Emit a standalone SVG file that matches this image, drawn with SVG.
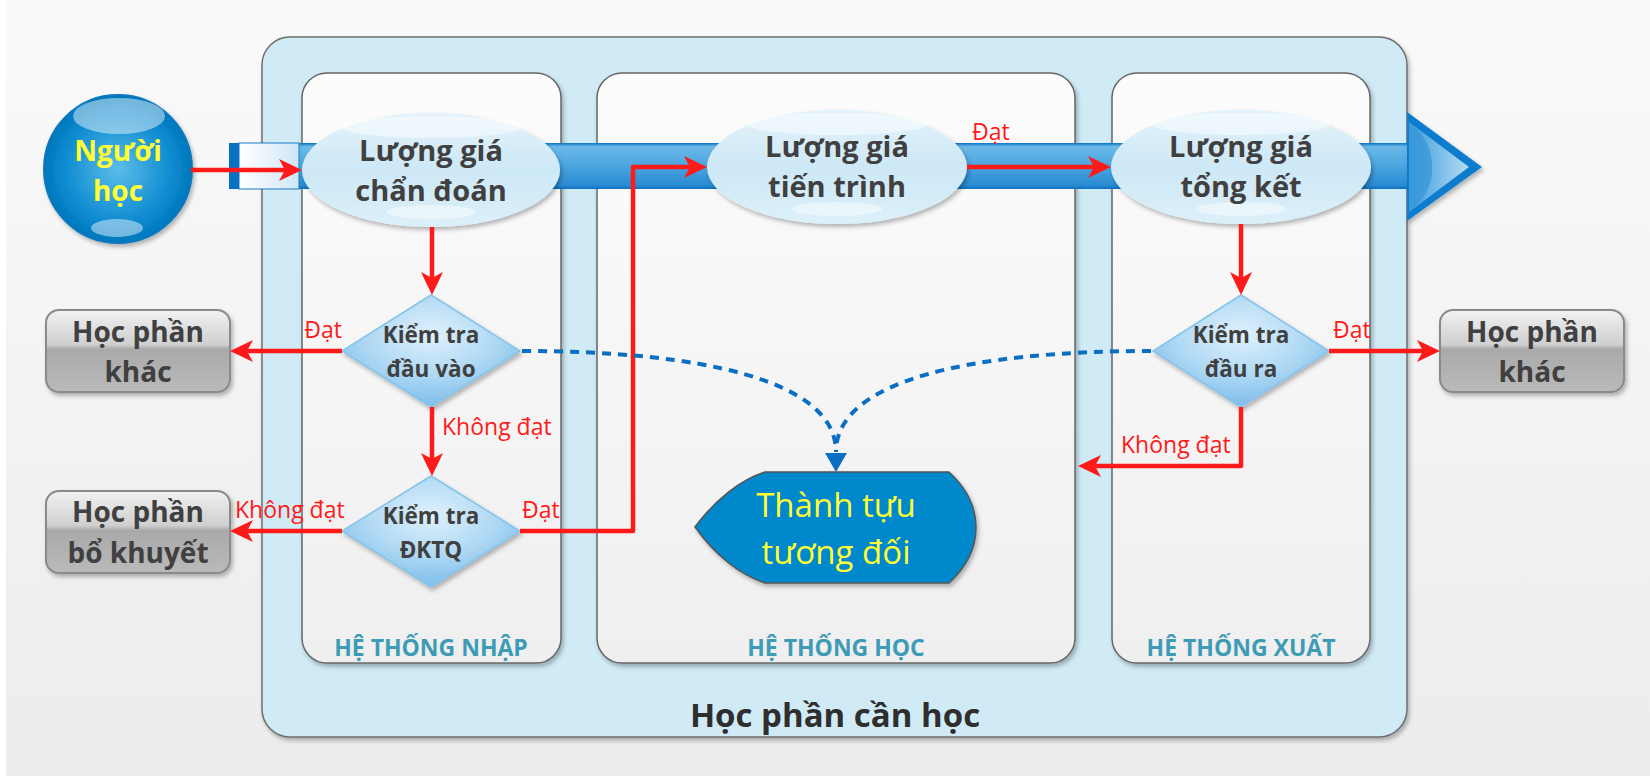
<svg xmlns="http://www.w3.org/2000/svg" width="1650" height="776" viewBox="0 0 1650 776">
<style>
.t{font-family:"Open Sans","DejaVu Sans",sans-serif;font-weight:700;fill:#404040;text-anchor:middle}
.big{font-size:28px}
.ellt{font-size:29px}
.dia{font-size:22.5px}
.plbl{font-family:"Open Sans","DejaVu Sans",sans-serif;font-weight:700;font-size:23px;fill:#3d9bb5;text-anchor:middle}
.lbl{font-family:"Open Sans","DejaVu Sans",sans-serif;font-size:23px;fill:#ff1a1a}
.red{stroke:#ff1a1a;stroke-width:4.5;fill:none;stroke-linejoin:round}
.dash{stroke:#0a6fc2;stroke-width:4;fill:none;stroke-dasharray:9 7}
.panel{fill:url(#panelG);stroke:#666;stroke-width:1.5}
.ell{fill:url(#ellG)}
.hl{fill:#fff;opacity:.45}
.diam{fill:url(#diaG);stroke:#86c3ea;stroke-width:1.5}
.gbox{fill:url(#grayG);stroke:#8a8a8a;stroke-width:2}
</style>
<defs>
<linearGradient id="bgG" x1="0" y1="0" x2="0" y2="1"><stop offset="0" stop-color="#fafafa"/><stop offset="1" stop-color="#ececec"/></linearGradient>
<linearGradient id="panelG" x1="0" y1="0" x2="0" y2="1"><stop offset="0" stop-color="#fcfcfc"/><stop offset="1" stop-color="#efefef"/></linearGradient>
<linearGradient id="ellG" x1="0" y1="0" x2="0" y2="1"><stop offset="0" stop-color="#e4f3fb"/><stop offset="0.5" stop-color="#cde8f6"/><stop offset="1" stop-color="#dcf0f9"/></linearGradient>
<radialGradient id="diaG" cx="0.5" cy="0.35" r="0.6"><stop offset="0" stop-color="#dff1fc"/><stop offset="0.6" stop-color="#b0d9f4"/><stop offset="1" stop-color="#86c2ec"/></radialGradient>
<linearGradient id="grayG" x1="0" y1="0" x2="0" y2="1"><stop offset="0" stop-color="#f2f2f2"/><stop offset="0.42" stop-color="#cfcfcf"/><stop offset="0.48" stop-color="#a9a9a9"/><stop offset="1" stop-color="#bababa"/></linearGradient>
<radialGradient id="cirG" cx="0.5" cy="0.5" r="0.5"><stop offset="0" stop-color="#5cbde9"/><stop offset="0.75" stop-color="#0c8ad0"/><stop offset="1" stop-color="#0077bb"/></radialGradient>
<linearGradient id="bandG" x1="0" y1="0" x2="0" y2="1"><stop offset="0" stop-color="#0a74c4"/><stop offset="0.08" stop-color="#6cb9e8"/><stop offset="0.5" stop-color="#4aa5df"/><stop offset="0.92" stop-color="#2a8bd3"/><stop offset="1" stop-color="#0a70c0"/></linearGradient>
<linearGradient id="bandL" x1="0" y1="0" x2="1" y2="0"><stop offset="0" stop-color="#ffffff"/><stop offset="1" stop-color="#cfe6f6"/></linearGradient>
<linearGradient id="headG" x1="0" y1="0" x2="1" y2="0"><stop offset="0" stop-color="#3d9cdc"/><stop offset="1" stop-color="#b5dcf4"/></linearGradient>
<filter id="sh" x="-10%" y="-10%" width="130%" height="140%"><feDropShadow dx="2" dy="3" stdDeviation="2" flood-color="#000" flood-opacity="0.28"/></filter>
<marker id="ra" markerUnits="userSpaceOnUse" markerWidth="24" markerHeight="24" refX="6" refY="12" orient="auto"><path d="M0,1 L23,12 L0,23 L6,12 Z" fill="#ff1a1a"/></marker>
</defs>

<rect x="0" y="0" width="1650" height="776" fill="url(#bgG)"/>
<rect x="0" y="0" width="6" height="776" fill="#ffffff"/>

<g id="container">
<rect x="262" y="37" width="1145" height="700" rx="28" fill="#d0ebf6" stroke="#6e6e6e" stroke-width="1.5" filter="url(#sh)"/>
<text class="t" x="835" y="727" font-size="33" style="fill:#2e2e2e">Học phần cần học</text>
</g>

<g id="panel-nhap">
<rect class="panel" x="302" y="73" width="259" height="590" rx="25" filter="url(#sh)"/>
<text class="plbl" x="431" y="656">HỆ THỐNG NHẬP</text>
</g>
<g id="panel-hoc">
<rect class="panel" x="597" y="73" width="478" height="590" rx="25" filter="url(#sh)"/>
<text class="plbl" x="836" y="656">HỆ THỐNG HỌC</text>
</g>
<g id="panel-xuat">
<rect class="panel" x="1112" y="73" width="258" height="590" rx="25" filter="url(#sh)"/>
<text class="plbl" x="1241" y="656">HỆ THỐNG XUẤT</text>
</g>

<g id="band">
<rect x="290" y="143" width="1118" height="46" fill="url(#bandG)"/>
<rect x="239" y="143" width="60" height="46" fill="url(#bandL)" stroke="#1a7ac6" stroke-width="1"/>
<rect x="229" y="143" width="10" height="46" fill="#0a70c0"/>
<path d="M1407,112 L1482,167 L1407,221 Z" fill="#0a7ccc" filter="url(#sh)"/>
<path d="M1409,122 L1469,167 L1409,212 Z" fill="url(#headG)"/>
<path d="M1409,122 C1440,145 1440,190 1409,212 Z" fill="#3a98da" opacity="0.8"/>
</g>

<g id="nguoi-hoc">
<circle cx="118" cy="169" r="74" fill="url(#cirG)" stroke="#0a78c0" stroke-width="2" filter="url(#sh)"/>
<ellipse cx="119" cy="116" rx="46" ry="18" class="hl" opacity="0.3"/>
<ellipse cx="117" cy="228" rx="26" ry="9" class="hl" opacity="0.22"/>
<text class="t big" x="118" y="161" style="fill:#ffff33">Người</text>
<text class="t big" x="118" y="201" style="fill:#ffff33">học</text>
</g>

<g id="lg-chan-doan">
<ellipse class="ell" cx="431" cy="170" rx="129" ry="57" filter="url(#sh)"/>
<ellipse class="hl" cx="431" cy="127" rx="90" ry="11"/>
<ellipse class="hl" cx="431" cy="212" rx="45" ry="7"/>
<text class="t ellt" x="431" y="161">Lượng giá</text>
<text class="t ellt" x="431" y="201">chẩn đoán</text>
</g>

<g id="lg-tien-trinh">
<ellipse class="ell" cx="837" cy="167" rx="130" ry="57" filter="url(#sh)"/>
<ellipse class="hl" cx="837" cy="124" rx="90" ry="11"/>
<ellipse class="hl" cx="837" cy="209" rx="45" ry="7"/>
<text class="t ellt" x="837" y="157">Lượng giá</text>
<text class="t ellt" x="837" y="197">tiến trình</text>
</g>

<g id="lg-tong-ket">
<ellipse class="ell" cx="1241" cy="167" rx="130" ry="57" filter="url(#sh)"/>
<ellipse class="hl" cx="1241" cy="124" rx="90" ry="11"/>
<ellipse class="hl" cx="1241" cy="209" rx="45" ry="7"/>
<text class="t ellt" x="1241" y="157">Lượng giá</text>
<text class="t ellt" x="1241" y="197">tổng kết</text>
</g>

<g id="kt-dau-vao">
<path class="diam" d="M431,295 L520,351 L431,407 L342,351 Z" filter="url(#sh)"/>
<text class="t dia" x="431" y="343">Kiểm tra</text>
<text class="t dia" x="431" y="377">đầu vào</text>
</g>

<g id="kt-dktq">
<path class="diam" d="M431,476 L520,531 L431,587 L342,531 Z" filter="url(#sh)"/>
<text class="t dia" x="431" y="524">Kiểm tra</text>
<text class="t dia" x="431" y="558">ĐKTQ</text>
</g>

<g id="kt-dau-ra">
<path class="diam" d="M1241,295 L1329,351 L1241,407 L1153,351 Z" filter="url(#sh)"/>
<text class="t dia" x="1241" y="343">Kiểm tra</text>
<text class="t dia" x="1241" y="377">đầu ra</text>
</g>

<g id="hp-khac-trai">
<rect class="gbox" x="46" y="310" width="184" height="82" rx="13" filter="url(#sh)"/>
<text class="t big" x="138" y="342">Học phần</text>
<text class="t big" x="138" y="382">khác</text>
</g>

<g id="hp-bo-khuyet">
<rect class="gbox" x="46" y="491" width="184" height="82" rx="13" filter="url(#sh)"/>
<text class="t big" x="138" y="522">Học phần</text>
<text class="t big" x="138" y="563">bổ khuyết</text>
</g>

<g id="hp-khac-phai">
<rect class="gbox" x="1440" y="310" width="184" height="82" rx="13" filter="url(#sh)"/>
<text class="t big" x="1532" y="342">Học phần</text>
<text class="t big" x="1532" y="382">khác</text>
</g>

<g id="thanh-tuu">
<path d="M695,527 C715,500 740,480 765,472 L949,472 C985,505 985,550 949,583 L765,583 C740,575 715,555 695,527 Z" fill="#0088cc" stroke="#555" stroke-width="1.5" filter="url(#sh)"/>
<text x="836" y="517" font-family="'Open Sans','DejaVu Sans',sans-serif" font-size="33" fill="#ffff33" text-anchor="middle">Thành tựu</text>
<text x="836" y="564" font-family="'Open Sans','DejaVu Sans',sans-serif" font-size="33" fill="#ffff33" text-anchor="middle">tương đối</text>
</g>

<g id="connectors">
<path class="red" d="M191,170 L285,170" marker-end="url(#ra)"/>
<path class="red" d="M432,227 L432,278" marker-end="url(#ra)"/>
<path class="red" d="M342,351 L247,351" marker-end="url(#ra)"/>
<path class="red" d="M432,407 L432,459" marker-end="url(#ra)"/>
<path class="red" d="M342,531 L247,531" marker-end="url(#ra)"/>
<path class="red" d="M520,531 L633,531 L633,167 L690,167" marker-end="url(#ra)"/>
<path class="red" d="M967,167 L1094,167" marker-end="url(#ra)"/>
<path class="red" d="M1241,224 L1241,278" marker-end="url(#ra)"/>
<path class="red" d="M1329,351 L1423,351" marker-end="url(#ra)"/>
<path class="red" d="M1241,407 L1241,466 L1095,466" marker-end="url(#ra)"/>
<path class="dash" d="M522,351 C700,351 836,380 836,452"/>
<path class="dash" d="M1151,351 C972,351 836,380 836,452"/>
<path d="M825,453 L847,453 L836,472 Z" fill="#0a6fc2"/>
<text class="lbl" x="342" y="338" text-anchor="end">Đạt</text>
<text class="lbl" x="442" y="435">Không đạt</text>
<text class="lbl" x="235" y="518">Không đạt</text>
<text class="lbl" x="522" y="518">Đạt</text>
<text class="lbl" x="972" y="140">Đạt</text>
<text class="lbl" x="1333" y="338">Đạt</text>
<text class="lbl" x="1121" y="453">Không đạt</text>
</g>
</svg>
